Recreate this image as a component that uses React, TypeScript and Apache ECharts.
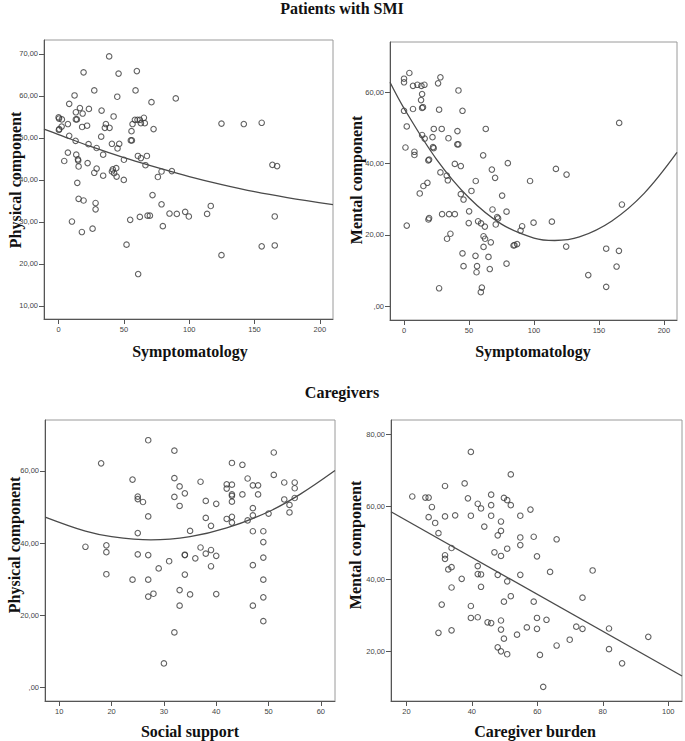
import React, { useEffect, useRef } from "react";
import * as echarts from "echarts";

// ---- Data ----
const smiPhysical: number[][] = [
  [38.7,69.4],[19.1,65.6],[45.9,65.3],[59.9,65.9],[27.3,61.3],[12.2,60.1],[44.9,59.8],[58.9,61.3],[71.1,58.5],[89.7,59.4],
  [8.1,58.1],[13.2,56.1],[16.3,57.1],[18.4,55.8],[23.2,56.9],[32.9,56.5],[42.1,55.1],[0,54.9],[0.3,54.6],[2.5,54.4],
  [13.2,54.4],[14.0,54.4],[7.1,53.3],[0.5,52.1],[0.2,51.9],[2.3,52.7],[18.0,52.6],[21.8,52.9],[36.2,53.3],[35.4,52.4],
  [39.0,52.4],[32.6,50.3],[8.1,50.5],[13.0,49.3],[22.9,48.5],[29.1,47.6],[40.8,48.6],[46.4,48.6],[45.1,47.5],[7.1,46.5],
  [13.5,46.0],[14.8,44.9],[15.0,44.6],[4.3,44.5],[34.1,46.0],[15.3,43.2],[22.2,44.0],[29.1,42.7],[27.3,41.7],[34.1,41.0],
  [40.8,42.0],[41.5,42.5],[42.5,41.6],[44.1,42.8],[44.4,40.8],[50.0,44.8],[49.9,40.0],[55.3,49.4],[56.1,49.4],[55.8,51.6],
  [56.6,53.3],[58.4,54.3],[60.4,54.3],[62.2,54.3],[65.3,54.8],[66.0,53.5],[63.0,53.5],[72.7,52.1],[60.7,45.7],[63.0,45.2],
  [67.6,45.7],[66.5,43.5],[76.0,40.7],[78.8,42.0],[86.7,42.1],[124.7,53.4],[141.8,53.3],[155.5,53.6],[163.7,43.6],[167.3,43.3],
  [14.3,39.3],[10.2,30.1],[15.3,35.5],[19.1,35.1],[17.8,27.6],[26.0,28.4],[28.3,34.5],[28.3,33.0],[52.0,24.6],[54.8,30.5],
  [60.9,17.6],[62.2,31.2],[68.1,31.5],[69.9,31.5],[71.9,36.4],[78.8,34.2],[79.8,29.0],[84.9,32.0],[90.5,31.9],[96.9,32.4],
  [99.7,31.3],[113.7,31.9],[116.5,33.8],[124.7,22.1],[155.5,24.2],[165.5,24.4],[165.5,31.3]
];
const smiPhysicalFit: number[][] = [
  [-11.2,52.1],[0,50.8],[25,47.9],[50,45.3],[75,43.0],[100,40.8],[125,38.9],[150,37.2],[175,35.8],[210.1,34.1]
];

const smiMental: number[][] = [
  [4.1,65.4],[0,63.8],[0,62.8],[6.9,61.8],[10.3,62.1],[13.4,61.8],[15.7,62.1],[26.2,62.5],[28.0,64.2],[13.9,59.5],
  [13.1,57.8],[13.9,55.6],[14.6,55.8],[41.9,60.5],[0,54.8],[6.9,55.3],[27.0,55.1],[45.0,54.8],[2.1,50.4],[22.9,49.7],
  [29.0,49.7],[41.1,49.1],[62.9,49.7],[13.9,48.0],[15.9,47.0],[21.9,47.4],[34.2,47.1],[1.1,44.5],[22.3,44.6],[22.8,44.3],
  [41.0,45.4],[41.8,45.4],[8.0,43.3],[8.0,42.4],[60.9,42.3],[18.7,40.9],[19.3,41.1],[39.1,39.9],[43.7,39.3],[28.0,37.5],
  [33.7,35.3],[32.9,36.6],[67.6,38.3],[70.1,36.0],[14.9,33.7],[18.0,34.6],[12.1,31.6],[55.2,35.1],[51.9,32.3],[43.7,31.4],
  [45.8,29.9],[50.1,26.6],[68.1,27.1],[18.8,24.3],[19.3,24.7],[29.3,25.8],[34.7,25.8],[39.1,25.8],[2.1,22.6],[49.8,23.3],
  [57.0,23.8],[59.3,23.2],[62.2,22.3],[71.7,25.0],[72.4,24.6],[70.6,22.9],[35.7,20.3],[33.1,18.9],[61.2,19.6],[62.4,18.9],
  [66.8,17.9],[61.2,16.6],[45.0,14.8],[55.0,14.1],[65.0,13.8],[45.8,11.2],[56.2,11.2],[55.8,9.5],[66.0,10.4],[27.0,5.0],
  [59.9,5.2],[59.1,3.9],[79.9,40.1],[84.3,17.0],[78.9,11.9],[75.5,31.0],[78.9,26.5],[116.9,38.5],[125.1,36.9],[97.0,35.1],
  [90.9,22.4],[89.7,21.2],[99.7,23.4],[113.8,23.7],[85.0,17.1],[87.0,17.4],[124.8,16.7],[167.7,28.5],[155.6,16.1],[165.4,15.5],
  [163.6,11.1],[141.8,8.7],[155.6,5.4],[165.6,51.4]
];
const smiMentalFit: number[][] = [
  [-10.8,62.8],[0,55.5],[25,41.2],[50,30.4],[75,23.0],[100,19.1],[116,18.4],[135,19.4],[160,23.9],[185,31.7],[210.1,43.1]
];

const cgPhysical: number[][] = [
  [27,68.5],[32,65.6],[51,65.1],[18,62.1],[43,62.2],[45,61.7],[24,57.6],[32,58.0],[37,57.0],[46,57.9],
  [51,58.9],[53,56.8],[55,56.8],[33,55.7],[42,56.3],[43,56.2],[42,55.1],[47,56.0],[48,56.0],[55,55.2],
  [34,53.8],[25,52.9],[25,52.2],[26,51.4],[32,52.8],[43,53.5],[43,53.1],[45,53.5],[48,53.5],[38,51.7],
  [40,50.9],[33,50.3],[43,51.5],[53,52.1],[55,52.5],[54,50.6],[47,49.7],[54,48.5],[50,48.2],[27,47.4],
  [38,47.0],[42,46.7],[43,47.3],[43,45.7],[47,47.7],[46,46.3],[39,44.8],[25,42.8],[35,43.4],[47,43.3],
  [49,43.3],[49,40.3],[15,39.0],[19,39.4],[19,37.5],[25,36.9],[27,36.7],[34,36.8],[34,36.7],[37,38.8],
  [38,37.1],[39,38.1],[40,36.5],[36,35.8],[49,36.0],[29,33.0],[31,35.0],[39,33.6],[47,33.9],[19,31.4],
  [34,31.3],[24,29.9],[27,29.9],[49,29.9],[33,27.0],[27,25.2],[28,26.0],[35,25.8],[40,25.9],[49,25.0],
  [33,22.7],[47,22.7],[49,18.4],[32,15.3],[30,6.7]
];
const cgPhysicalFit: number[][] = [
  [7.3,47.2],[15,43.3],[20,41.8],[27.5,40.9],[35,41.8],[42,44.2],[50,48.7],[56,53.5],[62.7,60.1]
];

const cgMental: number[][] = [
  [39.7,75.1],[51.9,68.9],[31.8,65.7],[37.8,66.4],[21.8,62.8],[25.8,62.5],[26.8,62.5],[45.9,63.3],[49.8,62.4],[50.8,61.8],
  [38.8,62.3],[27.8,59.9],[41.8,60.8],[42.8,59.5],[45.9,60.4],[51.9,60.4],[57.9,59.2],[26.8,57.1],[31.8,57.3],[34.9,57.6],
  [39.7,57.5],[45.9,57.5],[54.8,57.5],[28.8,55.5],[48.9,55.9],[43.8,54.5],[48.9,53.3],[47.9,52.1],[29.8,52.7],[54.8,51.5],
  [58.9,51.7],[65.9,51.0],[54.8,49.4],[33.8,48.6],[50.8,48.4],[31.8,46.6],[31.8,45.6],[46.9,47.4],[48.9,46.4],[59.9,46.3],
  [32.8,42.7],[33.8,43.3],[41.8,43.6],[41.8,41.4],[42.8,41.3],[63.9,42.0],[76.9,42.4],[47.9,41.2],[54.8,41.2],[36.9,40.1],
  [50.8,39.4],[33.8,37.7],[42.8,37.9],[51.9,35.3],[73.8,34.9],[30.8,33.0],[49.8,33.8],[58.9,33.8],[39.7,32.6],[39.7,29.3],
  [41.8,29.5],[59.9,29.3],[62.8,28.8],[44.8,28.1],[45.9,27.9],[48.9,28.6],[29.8,25.2],[33.8,25.9],[48.9,26.1],[49.8,23.6],
  [53.8,24.7],[56.8,26.7],[59.9,26.3],[71.9,26.9],[73.8,26.3],[81.9,26.4],[93.9,24.1],[65.9,21.7],[69.9,23.3],[47.9,21.2],
  [48.9,20.1],[50.8,19.3],[60.8,19.1],[81.9,20.7],[85.9,16.8],[61.8,10.3]
];
const cgMentalFit: number[][] = [[15.3,58.6],[104.2,13.3]];

const symptomTicks = [0, 50, 100, 150, 200];
const supportTicks = [10, 20, 30, 40, 50, 60];
const burdenTicks = [20, 40, 60, 80, 100];
const physTicksSMI = [10, 20, 30, 40, 50, 60, 70];
const evenTicks = [0, 20, 40, 60];
const mentalTicksCG = [20, 40, 60, 80];

const titleTop = "Patients with SMI";
const titleBottom = "Caregivers";

const fmtY = (v: number) => (v === 0 ? ",00" : v.toFixed(2).replace(".", ","));
const SERIF = '"Liberation Serif", "Times New Roman", serif';
const SANS = '"Liberation Sans", Arial, sans-serif';

function xAxis(i: number, min: number, max: number, ticks: number[]) {
  return {
    type: "value", gridIndex: i, min, max,
    axisLine: { show: true, onZero: false, lineStyle: { color: "#555", width: 1 } },
    axisTick: { show: true, length: 5, customValues: ticks, lineStyle: { color: "#555" } },
    axisLabel: { customValues: ticks, fontSize: 7.5, color: "#444", margin: 6, fontFamily: SANS, formatter: (v: number) => String(v) },
    splitLine: { show: false },
  };
}
function yAxis(i: number, min: number, max: number, ticks: number[]) {
  return {
    type: "value", gridIndex: i, min, max,
    axisLine: { show: true, onZero: false, lineStyle: { color: "#555", width: 1 } },
    axisTick: { show: true, length: 5, customValues: ticks, lineStyle: { color: "#555" } },
    axisLabel: { customValues: ticks, fontSize: 7.5, color: "#444", margin: 6, fontFamily: SANS, formatter: fmtY },
    splitLine: { show: false },
  };
}
function scatter(i: number, data: number[][]) {
  return {
    type: "scatter", xAxisIndex: i, yAxisIndex: i, data, symbol: "circle", symbolSize: 5.5, silent: true,
    itemStyle: { color: "rgba(0,0,0,0)", borderColor: "#3a3a3a", borderWidth: 1.1 },
  };
}
function fit(i: number, data: number[][]) {
  return {
    type: "line", xAxisIndex: i, yAxisIndex: i, data, smooth: 0.35, symbol: "none", showSymbol: false, silent: true, z: 3,
    lineStyle: { color: "#4a4a4a", width: 1.3 },
  };
}
function grid(left: number, top: number, width: number, height: number) {
  return { left, top, width, height, show: true, borderColor: "#9a9a9a", borderWidth: 1, outerBoundsMode: "none" };
}
function label(text: string, x: number, y: number, rotate = false) {
  return {
    type: "text", x, y, rotation: rotate ? Math.PI / 2 : 0,
    style: { text, font: `bold 16px ${SERIF}`, fill: "#111", align: "center", verticalAlign: "middle" },
  };
}

export default function App() {
  const ref = useRef<HTMLDivElement>(null);
  useEffect(() => {
    if (!ref.current) return;
    const chart = echarts.init(ref.current, undefined, { renderer: "svg" });
    chart.setOption({
      animation: false,
      backgroundColor: "#fff",
      grid: [grid(44, 40, 289, 279), grid(390, 42, 287, 278), grid(45, 420, 290, 281), grid(391, 420, 291, 281)],
      xAxis: [
        xAxis(0, -11.2, 210.1, symptomTicks),
        xAxis(1, -10.8, 210.1, symptomTicks),
        xAxis(2, 7.27, 62.7, supportTicks),
        xAxis(3, 15.3, 104.2, burdenTicks),
      ],
      yAxis: [
        yAxis(0, 6.9, 73.3, physTicksSMI),
        yAxis(1, -3.9, 74.1, evenTicks),
        yAxis(2, -3.7, 74.1, evenTicks),
        yAxis(3, 6.4, 83.9, mentalTicksCG),
      ],
      series: [
        scatter(0, smiPhysical), fit(0, smiPhysicalFit),
        scatter(1, smiMental), fit(1, smiMentalFit),
        scatter(2, cgPhysical), fit(2, cgPhysicalFit),
        scatter(3, cgMental), fit(3, cgMentalFit),
      ],
      graphic: [
        label(titleTop, 342, 8),
        label(titleBottom, 342, 392),
        label("Physical component", 15, 180, true),
        label("Mental component", 356, 180, true),
        label("Physical component", 14, 545, true),
        label("Mental component", 355, 545, true),
        label("Symptomatology", 190, 351),
        label("Symptomatology", 533, 351),
        label("Social support", 190, 731),
        label("Caregiver burden", 535, 731),
      ],
    });
    return () => chart.dispose();
  }, []);
  return <div ref={ref} style={{ position: "absolute", left: 0, top: 0, width: 685, height: 741 }} />;
}
